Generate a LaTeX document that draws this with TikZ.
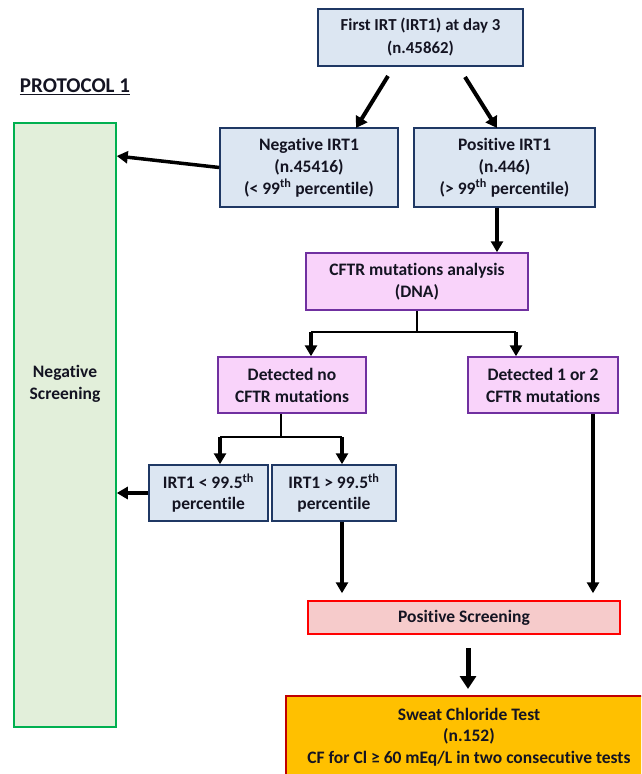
\documentclass[tikz,border=0pt]{standalone}
\usepackage{fontspec}
\setmainfont{Carlito}[Ligatures=NoCommon]
\usetikzlibrary{arrows.meta}
\definecolor{bluefill}{HTML}{DCE6F2}
\definecolor{bluedraw}{HTML}{1F3864}
\definecolor{pinkfill}{HTML}{F9D3FA}
\definecolor{purpledraw}{HTML}{7030A0}
\definecolor{greenfill}{HTML}{E2EFDA}
\definecolor{greendraw}{HTML}{00B050}
\definecolor{redfill}{HTML}{F6CBCB}
\definecolor{reddraw}{HTML}{FF0000}
\definecolor{orangefill}{HTML}{FFC000}
\definecolor{darkred}{HTML}{C00000}
\definecolor{txt}{HTML}{141422}
\begin{document}
\begin{tikzpicture}[x=1pt,y=-1pt,
 box/.style={draw, line width=1.5pt, align=center, inner sep=0pt, text=txt, font=\bfseries\fontsize{17.5}{22}\selectfont},
 bluebox/.style={box, draw=bluedraw, fill=bluefill},
 pinkbox/.style={box, draw=purpledraw, fill=pinkfill},
 arr/.style={line width=3.5pt, -{Triangle[width=12pt,length=11pt]}},
 bigarr/.style={line width=4pt, -{Triangle[width=13pt,length=11pt]}},
 hugearr/.style={line width=5pt, -{Triangle[width=16pt,length=13pt]}},
 stem/.style={line width=1.8pt},
]
\clip (0,0) rectangle (641,774);
\fill[white] (0,0) rectangle (641,774);

\node[bluebox, minimum width=205pt, minimum height=57pt, font=\bfseries\fontsize{16.8}{23}\selectfont] (top) at (420.5,37.5) {First IRT (IRT1) at day 3\\(n.45862)};

\node[text=txt, font=\bfseries\fontsize{21}{24}\selectfont, inner sep=0pt] (proto) at (75,87) {\underline{PROTOCOL 1}};

\node[box, draw=greendraw, fill=greenfill, minimum width=102pt, minimum height=604pt] (negscr) at (65,425) {};
\node[text=txt, align=center, inner sep=0pt, font=\bfseries\fontsize{17.5}{22}\selectfont] (negtxt) at (65,384) {Negative\\Screening};

\node[bluebox, minimum width=178pt, minimum height=79pt] (neg) at (309,167.5) {Negative IRT1\\(n.45416)\\(< 99\textsuperscript{th} percentile)};
\node[bluebox, minimum width=181pt, minimum height=79pt] (pos) at (504.5,167.5) {Positive IRT1\\(n.446)\\(> 99\textsuperscript{th} percentile)};

\node[pinkbox, minimum width=222pt, minimum height=57pt] (cftr) at (417,281.5) {CFTR mutations analysis\\(DNA)};

\node[pinkbox, minimum width=148pt, minimum height=56pt] (detno) at (292,385) {Detected no\\CFTR mutations};
\node[pinkbox, minimum width=150pt, minimum height=56pt] (det12) at (543,385) {Detected 1 or 2\\CFTR mutations};

\node[bluebox, minimum width=119pt, minimum height=56pt, font=\bfseries\fontsize{17.5}{21}\selectfont] (irtlow) at (208.5,493) {IRT1 < 99.5\textsuperscript{th}\\percentile};
\node[bluebox, minimum width=124pt, minimum height=56pt, font=\bfseries\fontsize{17.5}{21}\selectfont] (irthigh) at (334,493) {IRT1 > 99.5\textsuperscript{th}\\percentile};

\node[box, draw=reddraw, fill=redfill, minimum width=312pt, minimum height=33pt] (posscr) at (464,617.5) {Positive Screening};

\node[box, draw=darkred, fill=orangefill, line width=2pt, minimum width=366pt, minimum height=82pt, font=\bfseries\fontsize{17.5}{21.5}\selectfont] (sweat) at (469,737) {Sweat Chloride Test\\(n.152)\\CF for Cl ≥ 60 mEq/L in two consecutive tests};

% arrows from top
\coordinate (a1s) at (388,76);
\coordinate (a1e) at (356,128);
\draw[bigarr] (a1s) -- (a1e);
\coordinate (a2s) at (465,77);
\coordinate (a2e) at (497,128);
\draw[bigarr] (a2s) -- (a2e);

% negative IRT1 to negative screening
\coordinate (a3e) at (0,156);
\draw[arr] (neg.west) -- (negscr.east |- a3e);

% positive IRT1 to CFTR
\coordinate (a4x) at (497,0);
\draw[arr] (pos.south -| a4x) -- (cftr.north -| a4x);

% branch from CFTR
\coordinate (br1) at (417,332);
\coordinate (b1l) at (311,332);
\coordinate (b1r) at (516,332);
\draw[stem] (cftr.south) -- (br1);
\draw[stem] (b1l) -- (b1r);
\draw[arr] (b1l) -- (detno.north -| b1l);
\draw[arr] (b1r) -- (det12.north -| b1r);

% branch from detected no
\coordinate (br2) at (281,437);
\coordinate (b2l) at (220,437);
\coordinate (b2r) at (342,437);
\draw[stem] (detno.south -| br2) -- (br2);
\draw[stem] (b2l) -- (b2r);
\draw[arr] (b2l) -- (irtlow.north -| b2l);
\draw[arr] (b2r) -- (irthigh.north -| b2r);

% IRT1 low to negative screening
\draw[arr] (irtlow.west) -- (negscr.east |- irtlow.west);

% to positive screening
\draw[arr, shorten >=7pt] (irthigh.south -| b2r) -- (posscr.north -| b2r);
\coordinate (a8x) at (593,0);
\draw[arr, shorten >=7pt] (det12.south -| a8x) -- (posscr.north -| a8x);

% positive screening to sweat test
\coordinate (a9s) at (468,648);
\coordinate (a9e) at (468,689);
\draw[hugearr] (a9s) -- (a9e);
\end{tikzpicture}
\end{document}
